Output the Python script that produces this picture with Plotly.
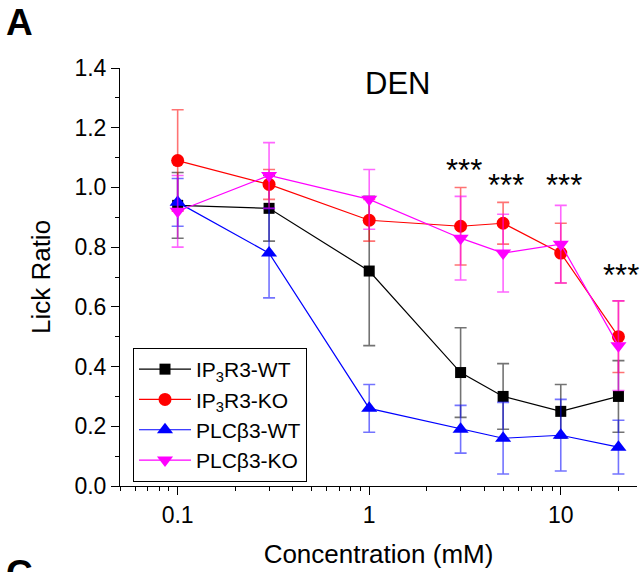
import plotly.graph_objects as go
import numpy as np

conc = [0.1, 0.3, 1, 3, 5, 10, 20]

ip3r3_wt = [0.94, 0.93, 0.72, 0.38, 0.30, 0.25, 0.30]
ip3r3_wt_err = [0.11, 0.11, 0.25, 0.15, 0.11, 0.09, 0.12]

ip3r3_ko = [1.09, 1.01, 0.89, 0.87, 0.88, 0.78, 0.50]
ip3r3_ko_err = [0.17, 0.05, 0.07, 0.13, 0.07, 0.10, 0.12]

plc_wt = [0.95, 0.78, 0.26, 0.19, 0.16, 0.17, 0.13]
plc_wt_err = [0.08, 0.15, 0.08, 0.08, 0.12, 0.12, 0.09]

plc_ko = [0.92, 1.04, 0.96, 0.83, 0.78, 0.81, 0.47]
plc_ko_err = [0.12, 0.11, 0.10, 0.14, 0.13, 0.13, 0.15]

names = ["IP<sub>3</sub>R3-WT", "IP<sub>3</sub>R3-KO", "PLCβ3-WT", "PLCβ3-KO"]

sig_x = [3, 5, 10, 20]
sig_y = [1.063, 1.013, 1.013, 0.712]
sig_text = ["***", "***", "***", "***"]

FONT = "Arial, Liberation Sans, sans-serif"

series = [
    (ip3r3_wt, ip3r3_wt_err, names[0], "black", "rgba(0,0,0,0.55)", "square", 11),
    (ip3r3_ko, ip3r3_ko_err, names[1], "red", "rgba(255,0,0,0.55)", "circle", 13),
    (plc_wt, plc_wt_err, names[2], "blue", "rgba(0,0,255,0.55)", "triangle-up", 14),
    (plc_ko, plc_ko_err, names[3], "magenta", "rgba(255,0,255,0.6)", "triangle-down", 14),
]

fig = go.Figure()
for i, (y, e, n, c, ec, sym, sz) in enumerate(series):
    fig.add_trace(go.Scatter(
        x=conc, y=y, name=n, mode="lines+markers", legendgroup=f"g{i}",
        line=dict(color=c, width=1.2),
        marker=dict(symbol=sym, size=sz, color=c, line=dict(width=0)),
        error_y=dict(type="data", array=e, visible=True, color=ec, thickness=1.6, width=6),
    ))

for sx, sy, st in zip(sig_x, sig_y, sig_text):
    fig.add_annotation(x=np.log10(sx), y=sy, xref="x", yref="y", text=st,
                       showarrow=False, font=dict(family=FONT, size=31, color="black"),
                       xanchor="center", yanchor="middle", xshift=3, yshift=-2)

fig.add_annotation(x=(397 - 120) / 517, y=(486 - 84) / 418, xref="paper", yref="paper",
                   text="DEN", showarrow=False, font=dict(family=FONT, size=31, color="black"),
                   xanchor="center", yanchor="middle")
fig.add_annotation(x=-(120 - 4) / 517, y=(486 - 0) / 418, xref="paper", yref="paper",
                   text="<b>A</b>", showarrow=False, font=dict(family=FONT, size=37, color="black"),
                   xanchor="left", yanchor="top")
fig.add_annotation(x=-(120 - 4) / 517, y=(486 - 551) / 418, xref="paper", yref="paper",
                   text="<b>C</b>", showarrow=False, font=dict(family=FONT, size=37, color="black"),
                   xanchor="left", yanchor="top")

minor_x = [0.05, 0.06, 0.07, 0.08, 0.09, 0.2, 0.3, 0.4, 0.5, 0.6, 0.7, 0.8, 0.9,
           2, 3, 4, 5, 6, 7, 8, 9, 20]

fig.update_layout(
    width=641, height=572,
    margin=dict(l=120, r=4, t=68, b=86),
    paper_bgcolor="white", plot_bgcolor="white",
    font=dict(family=FONT, color="black"),
    showlegend=True,
    legend=dict(x=(133 - 120) / 517, y=(486 - 482) / 418, xanchor="left", yanchor="bottom",
                bordercolor="black", borderwidth=1, bgcolor="white",
                font=dict(family=FONT, size=21, color="black"), tracegroupgap=0,
                itemwidth=52),
    xaxis=dict(type="log", range=[np.log10(0.05), np.log10(25)],
               tickvals=[0.1, 1, 10], ticktext=["0.1", "1", "10"],
               ticks="outside", ticklen=8, tickwidth=1, tickcolor="black",
               showline=True, linecolor="black", linewidth=1, showgrid=False, zeroline=False,
               tickfont=dict(family=FONT, size=23, color="black"),
               minor=dict(tickvals=minor_x, ticks="outside", ticklen=4, tickcolor="black", showgrid=False),
               title=dict(text="Concentration (mM)", font=dict(family=FONT, size=26, color="black"), standoff=18)),
    yaxis=dict(range=[0, 1.4], dtick=0.2, tick0=0, tickformat=".1f",
               ticks="outside", ticklen=8, tickwidth=1, tickcolor="black",
               showline=True, linecolor="black", linewidth=1, showgrid=False, zeroline=False,
               tickfont=dict(family=FONT, size=23, color="black"),
               minor=dict(dtick=0.1, ticks="outside", ticklen=4, tickcolor="black", showgrid=False),
               title=dict(text="Lick Ratio", font=dict(family=FONT, size=26, color="black"), standoff=16)),
)
fig.update_xaxes(automargin=False)
fig.update_yaxes(automargin=False)

fig.write_html("out.html")
